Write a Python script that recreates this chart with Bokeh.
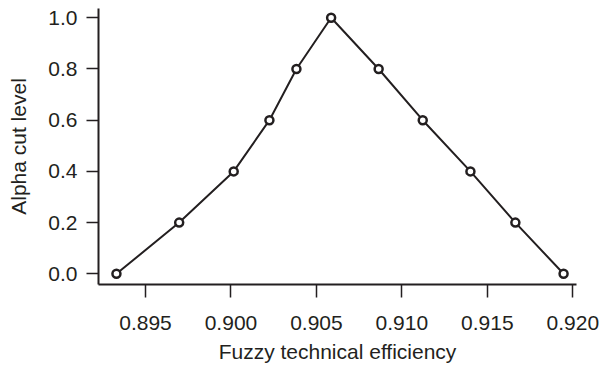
from bokeh.plotting import figure
from bokeh.models import Range1d, FixedTicker, NumeralTickFormatter
from bokeh.embed import file_html
from bokeh.resources import INLINE

# Data
efficiency = [0.89330, 0.89697, 0.90016, 0.90225, 0.90383, 0.90586,
              0.90864, 0.91122, 0.91401, 0.91664, 0.91946]
alpha = [0.0, 0.2, 0.4, 0.6, 0.8, 1.0, 0.8, 0.6, 0.4, 0.2, 0.0]
x_ticks = [0.895, 0.900, 0.905, 0.910, 0.915, 0.920]
y_ticks = [0.0, 0.2, 0.4, 0.6, 0.8, 1.0]

INK = "#231f20"
FONT = "Liberation Sans"

p = figure(width=600, height=366, output_backend="svg", toolbar_location=None,
           x_range=Range1d(0.89225, 0.920216), y_range=Range1d(-0.0418, 1.0363),
           min_border_left=98, min_border_right=24, min_border_top=8,
           min_border_bottom=82)
p.outline_line_color = None
p.xgrid.visible = False
p.ygrid.visible = False
p.background_fill_color = "white"
p.border_fill_color = "white"

p.line(efficiency, alpha, line_color=INK, line_width=2)
p.scatter(efficiency, alpha, marker="circle", size=8, fill_color="white",
          line_color=INK, line_width=2.5)

for ax in (p.xaxis[0], p.yaxis[0]):
    ax.axis_line_color = INK
    ax.axis_line_width = 2
    ax.major_tick_line_color = INK
    ax.major_tick_line_width = 1.5
    ax.major_tick_in = 0
    ax.minor_tick_line_color = None
    ax.major_label_text_font = FONT
    ax.major_label_text_font_size = "21px"
    ax.major_label_text_color = INK
    ax.axis_label_text_font = FONT
    ax.axis_label_text_font_size = "21px"
    ax.axis_label_text_font_style = "normal"
    ax.axis_label_text_color = INK

p.xaxis[0].ticker = FixedTicker(ticks=x_ticks)
p.xaxis[0].formatter = NumeralTickFormatter(format="0.000")
p.xaxis[0].major_tick_out = 13
p.xaxis[0].major_label_standoff = 18
p.xaxis[0].axis_label = "Fuzzy technical efficiency"
p.xaxis[0].axis_label_standoff = 7

p.yaxis[0].ticker = FixedTicker(ticks=y_ticks)
p.yaxis[0].formatter = NumeralTickFormatter(format="0.0")
p.yaxis[0].major_tick_out = 12
p.yaxis[0].major_label_standoff = 9
p.yaxis[0].axis_label = "Alpha cut level"
p.yaxis[0].axis_label_standoff = 15

open("out.html", "w").write(file_html(p, INLINE))
